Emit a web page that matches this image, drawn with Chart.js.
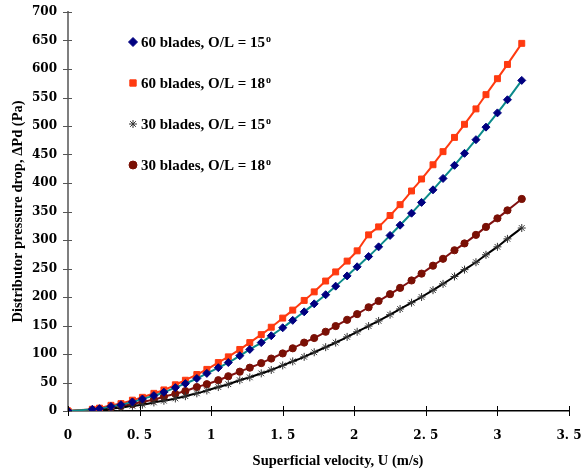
<!DOCTYPE html>
<html>
<head>
<meta charset="utf-8">
<script src="https://cdn.jsdelivr.net/npm/chart.js@4"></script>
<style>
  body { margin: 0; background: #fff; }
  #wrap { width: 587px; height: 472px; }
</style>
</head>
<body>
<div id="wrap"><canvas id="myChart" width="587" height="472"></canvas></div>
<script>
// Superficial velocity U (m/s)
var velocity = [0, 0.17, 0.22, 0.3, 0.37, 0.45, 0.52, 0.6, 0.67, 0.75, 0.82, 0.9, 0.97, 1.05,
  1.12, 1.2, 1.27, 1.35, 1.42, 1.5, 1.57, 1.65, 1.72, 1.8, 1.87, 1.95, 2.02, 2.1, 2.17, 2.25,
  2.32, 2.4, 2.47, 2.55, 2.62, 2.7, 2.77, 2.85, 2.92, 3.0, 3.07, 3.17];

// Distributor pressure drop (Pa)
var blades60_15 = [0, 3, 4, 8, 11, 16, 21, 27, 33, 41, 48, 57, 66, 76, 85, 97, 108, 120, 132, 146,
  159, 174, 188, 204, 219, 237, 253, 271, 288, 308, 326, 347, 366, 388, 408, 431, 452, 476, 498, 523, 546, 580];
var blades60_18 = [0, 3, 5, 10, 13, 19, 24, 31, 37, 46, 54, 64, 73, 85, 95, 108, 120, 134, 147, 163,
  177, 194, 209, 228, 244, 263, 281, 309, 323, 343, 362, 386, 407, 432, 455, 480, 503, 530, 555, 583, 608, 645];
var blades30_15 = [0, 1, 2, 4, 6, 9, 11, 15, 18, 22, 26, 31, 36, 42, 47, 54, 59, 66, 72, 80,
  87, 95, 103, 112, 120, 130, 139, 149, 158, 169, 179, 190, 200, 212, 223, 236, 248, 261, 274, 288, 302, 321];
var blades30_18 = [0, 2, 4, 6, 9, 12, 16, 20, 25, 30, 35, 42, 47, 54, 61, 69, 76, 84, 92, 101,
  110, 120, 128, 139, 149, 160, 170, 182, 193, 205, 216, 229, 241, 255, 267, 282, 294, 309, 323, 338, 352, 372];

var seriesNames = ['60 blades, O/L = 15', '60 blades, O/L = 18', '30 blades, O/L = 15', '30 blades, O/L = 18'];
var xTitle = 'Superficial velocity, U (m/s)';

function toPoints(values) {
  return values.map(function (v, i) { return { x: velocity[i], y: v }; });
}

var serif = "'Liberation Serif', 'Times New Roman', serif";

// legend drawn inside the plot, like the original
var innerLegend = {
  id: 'innerLegend',
  afterDraw: function (chart) {
    var ctx = chart.ctx;
    var x0 = 133, y0 = 42, gap = 41;
    ctx.save();
    chart.data.datasets.forEach(function (ds, i) {
      var y = y0 + i * gap;
      ctx.fillStyle = ds.pointBackgroundColor;
      ctx.strokeStyle = ds.pointBorderColor;
      ctx.lineWidth = ds.pointBorderWidth;
      Chart.helpers.drawPoint(ctx, { pointStyle: ds.pointStyle, radius: ds.legendRadius, rotation: 0, borderWidth: ds.pointBorderWidth }, x0, y);
      ctx.fillStyle = '#000';
      ctx.textBaseline = 'middle';
      ctx.font = 'bold 15px ' + serif;
      ctx.fillText(seriesNames[i], x0 + 8, y + 1);
      var w = ctx.measureText(seriesNames[i]).width;
      ctx.font = 'bold 10px ' + serif;
      ctx.fillText('o', x0 + 9 + w, y - 3);
    });
    // x axis title, a little right of the plot centre as in the original
    ctx.fillStyle = '#000';
    ctx.textAlign = 'center';
    ctx.textBaseline = 'middle';
    ctx.font = 'bold 14.5px ' + serif;
    ctx.fillText(xTitle, 338, 461);
    ctx.restore();
  }
};

// tick marks crossing the axes
var crossTicks = {
  id: 'crossTicks',
  afterDraw: function (chart) {
    var ctx = chart.ctx, xs = chart.scales.x, ys = chart.scales.y;
    var a = chart.chartArea;
    ctx.save();
    ctx.strokeStyle = '#555';
    ctx.lineWidth = 1;
    ys.ticks.forEach(function (t) {
      var y = Math.round(ys.getPixelForValue(t.value)) + 0.5;
      ctx.beginPath(); ctx.moveTo(a.left - 5, y); ctx.lineTo(a.left + 4, y); ctx.stroke();
    });
    ctx.strokeStyle = '#000';
    xs.ticks.forEach(function (t) {
      var x = Math.round(xs.getPixelForValue(t.value)) + 0.5;
      ctx.beginPath(); ctx.moveTo(x, a.bottom - 5); ctx.lineTo(x, a.bottom + 5); ctx.stroke();
    });
    ctx.restore();
  }
};

var ctx = document.getElementById('myChart').getContext('2d');

var myChart = new Chart(ctx, {
  type: 'line',
  data: {
    datasets: [{
      data: toPoints(blades60_15),
      borderColor: '#0B8A8A',
      borderWidth: 2,
      pointStyle: 'rectRot',
      pointRadius: 4,
      legendRadius: 4.5,
      pointBackgroundColor: '#000080',
      pointBorderColor: '#000080',
      pointBorderWidth: 1
    }, {
      data: toPoints(blades60_18),
      borderColor: '#FF3A10',
      borderWidth: 2,
      pointStyle: 'rect',
      pointRadius: 4.2,
      legendRadius: 4.5,
      pointBackgroundColor: '#FF3A10',
      pointBorderColor: '#FF3A10',
      pointBorderWidth: 1
    }, {
      data: toPoints(blades30_15),
      borderColor: '#000000',
      borderWidth: 2,
      pointStyle: 'star',
      pointRadius: 4,
      legendRadius: 4,
      pointBackgroundColor: '#333',
      pointBorderColor: '#333',
      pointBorderWidth: 1
    }, {
      data: toPoints(blades30_18),
      borderColor: '#801010',
      borderWidth: 2,
      pointStyle: 'circle',
      pointRadius: 3.6,
      legendRadius: 4,
      pointBackgroundColor: '#7A1005',
      pointBorderColor: '#7A1005',
      pointBorderWidth: 1
    }]
  },
  options: {
    responsive: false,
    animation: false,
    layout: { padding: { top: 12, right: 18, left: 0, bottom: 0 } },
    elements: { line: { tension: 0.3 } },
    plugins: { legend: { display: false }, tooltip: { enabled: false } },
    scales: {
      x: {
        type: 'linear',
        min: 0,
        max: 3.5,
        afterFit: function (scale) {
          scale.height = 61;
          scale.paddingLeft = 0;
          scale.paddingRight = 0;
        },
        grid: { display: false, drawTicks: false },
        border: { display: true, color: '#000', width: 1.5 },
        ticks: {
          stepSize: 0.5,
          padding: 18,
          color: '#000',
          font: { family: "'DejaVu Serif', serif", weight: 'bold', size: 12 },
          maxRotation: 0,
          callback: function (v) { return String(v).replace('.', '. '); }
        },
        title: { display: false }
      },
      y: {
        min: 0,
        max: 700,
        afterFit: function (scale) {
          scale.width = 68;
          scale.paddingTop = 0;
          scale.paddingBottom = 0;
        },
        grid: { display: false, drawTicks: false },
        border: { display: true, color: '#7f7f7f', width: 2 },
        ticks: {
          stepSize: 50,
          padding: 11,
          color: '#000',
          font: { family: "'DejaVu Serif', serif", weight: 'bold', size: 12 }
        },
        title: {
          display: true,
          text: 'Distributor pressure drop, \u0394Pd (Pa)',
          color: '#000',
          font: { family: serif, weight: 'bold', size: 14.5 },
          padding: { top: 10, bottom: 0 }
        }
      }
    }
  },
  plugins: [innerLegend, crossTicks]
});
</script>
</body>
</html>
